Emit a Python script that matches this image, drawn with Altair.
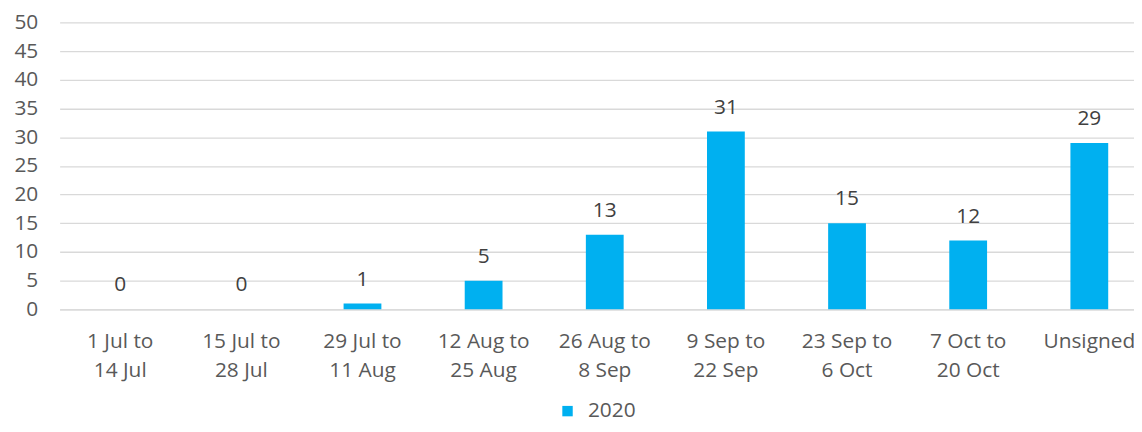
import altair as alt
import pandas as pd

categories = ["1 Jul to\n14 Jul", "15 Jul to\n28 Jul", "29 Jul to\n11 Aug", "12 Aug to\n25 Aug",
              "26 Aug to\n8 Sep", "9 Sep to\n22 Sep", "23 Sep to\n6 Oct", "7 Oct to\n20 Oct", "Unsigned"]
values = [0, 0, 1, 5, 13, 31, 15, 12, 29]
series = ["2020"] * len(categories)
y_ticks = [0, 5, 10, 15, 20, 25, 30, 35, 40, 45, 50]

df = pd.DataFrame({"cat": categories, "value": values, "series": series})

FONT = "Open Sans"
TXT = "#595959"
FS = 21

base = alt.Chart(df)

x = alt.X("cat:N", sort=categories, title=None,
          scale=alt.Scale(paddingInner=0.688, paddingOuter=0.344),
          axis=alt.Axis(labelAngle=0, labelExpr="split(datum.label, '\\n')",
                        labelFontSize=FS, labelColor=TXT, labelFont=FONT,
                        labelPadding=21, labelLineHeight=30, ticks=False,
                        domainColor="#d9d9d9", domainWidth=1.3, labelBaseline="top"))
y = alt.Y("value:Q", title=None,
          scale=alt.Scale(domain=[0, 50]),
          axis=alt.Axis(values=y_ticks, labelFontSize=FS, labelColor=TXT,
                        labelFont=FONT, labelPadding=22, ticks=False, domain=False,
                        labelOverlap=False, labelBound=False,
                        gridColor="#d9d9d9", gridWidth=1.3))

bars = base.mark_bar(color="#00B0F0").encode(
    x=x, y=y,
    color=alt.Color("series:N", scale=alt.Scale(range=["#00B0F0"]),
                    legend=alt.Legend(title=None, orient="none", legendX=501, legendY=381,
                                      padding=0, symbolType="square", symbolSize=110,
                                      symbolStrokeWidth=0, labelFontSize=FS, labelColor=TXT,
                                      labelFont=FONT, labelOffset=10))
)
labels = base.mark_text(baseline="bottom", dy=-14, fontSize=FS, color="#404040", font=FONT).encode(
    x=x, y=y, text="value:Q")

chart = (bars + labels).properties(
    width=1098, height=289,
    padding={"left": 52, "top": 13, "right": -16, "bottom": 114},
    autosize=alt.AutoSizeParams(type="none"),
).configure_view(stroke=None)

chart.save("out.html", embed_options={"renderer": "svg", "actions": False})
